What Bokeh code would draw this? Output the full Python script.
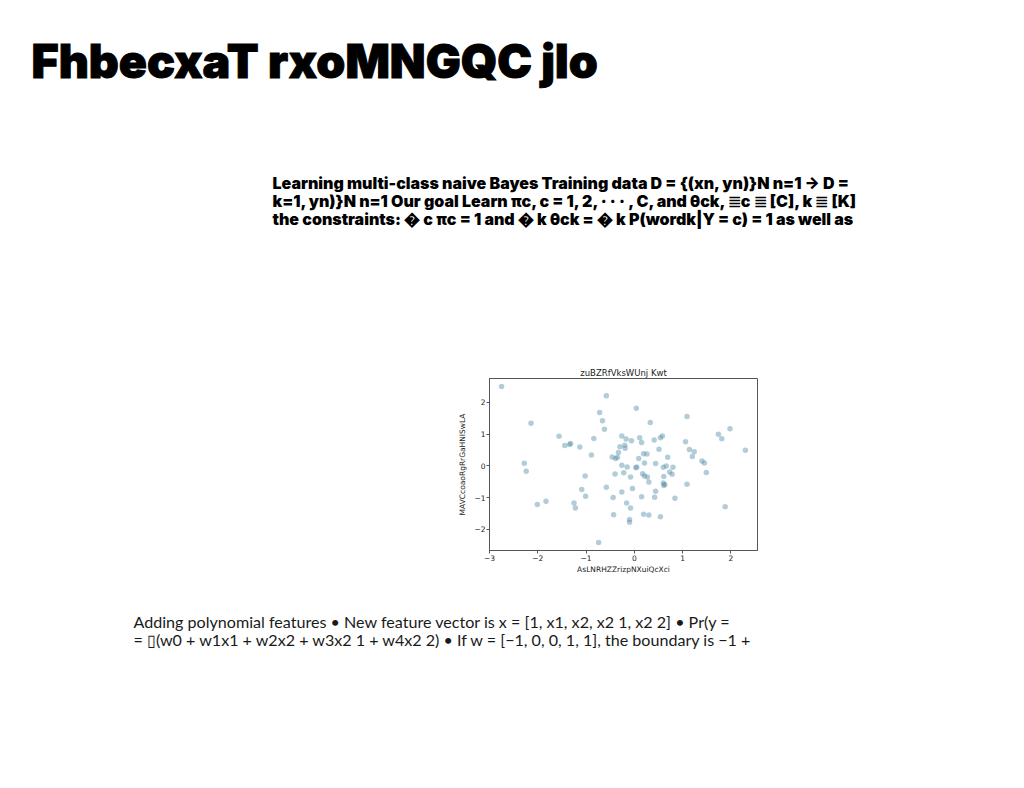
from bokeh.plotting import figure
from bokeh.layouts import column, row, Spacer
from bokeh.models import Range1d, FixedTicker, ColumnDataSource
from bokeh.core.properties import value
from bokeh.embed import file_html
from bokeh.resources import INLINE

# ---------------- data ----------------
page_title = "FhbecxaT rxoMNGQC jIo"
bayes_lines = [
    "Learning multi-class naive Bayes Training data D = {(xn, yn)}N n=1 \u2192 D =",
    "k=1, yn)}N n=1 Our goal Learn \u03c0c, c = 1, 2, \u00b7 \u00b7 \u00b7 , C, and \u03b8ck, \u2263c \u2263 [C], k \u2263 [K]",
    "the constraints: \ufffd c \u03c0c = 1 and \ufffd k \u03b8ck = \ufffd k P(wordk|Y = c) = 1 as well as",
]
poly_lines = [
    "Adding polynomial features \u2022 New feature vector is x = [1, x1, x2, x2 1, x2 2] \u2022 Pr(y =",
    "= \u25af(w0 + w1x1 + w2x2 + w3x2 1 + w4x2 2) \u2022 If w = [\u22121, 0, 0, 1, 1], the boundary is \u22121 +",
]
chart_title = "zuBZRfVksWUnj Kwt"
x_label = "AsLNRHZZrizpNXuiQcXci"
y_label = "MAVCcoaoRgRrGaHNISwLA"
x_ticks = [-3, -2, -1, 0, 1, 2]
y_ticks = [-2, -1, 0, 1, 2]

xs = [-2.75, -0.58, -2.14, 0.04, -0.72, -0.66, -0.62, 0.33, 1.09, -1.56,
      -1.44, -1.34, -1.32, -1.13, -0.84, -0.89, -0.26, -0.17, -0.06, -0.30,
      -0.20, -0.19, -0.33, -0.46, -0.39, -0.35, -0.26, -0.15, 0.11, 0.15,
      0.41, 0.54, 0.58, 0.19, 0.26, 0.09, 0.51, 0.69, 0.44, 0.21,
      0.03, 0.05, 1.06, 1.14, 1.24, 1.20, 1.74, 1.81, 1.98, 2.30,
      1.40, 1.45, -2.28, -2.24, -1.02, -2.01, -1.83, -1.09, -1.01, -1.25,
      -1.22, -0.74, -0.58, -0.40, -0.44, -0.43, -0.22, -0.26, -0.08, -0.16,
      -0.08, -0.10, -0.10, -0.04, 0.17, 0.21, 0.27, 0.30, 0.15, 0.44,
      0.42, 0.19, 0.30, 0.54, 0.60, 0.66, 0.61, 0.60, 0.61, 0.63,
      0.73, 0.78, 0.80, 0.84, 1.09, 1.49, 1.88]
ys = [2.50, 2.21, 1.34, 1.81, 1.68, 1.42, 1.15, 1.36, 1.55, 0.93,
      0.64, 0.67, 0.70, 0.59, 0.86, 0.34, 0.94, 0.84, 0.79, 0.60,
      0.65, 0.55, 0.42, 0.28, 0.23, 0.27, 0.02, -0.04, 0.88, 0.73,
      0.81, 0.88, 0.94, 0.38, 0.37, 0.23, 0.52, 0.27, 0.07, 0.09,
      -0.06, -0.04, 0.76, 0.51, 0.44, 0.29, 0.99, 0.85, 1.17, 0.49,
      0.15, 0.09, 0.08, -0.17, -0.32, -1.22, -1.12, -0.75, -0.96, -1.17,
      -1.33, -2.42, -0.68, -0.26, -1.00, -1.54, -0.22, -0.83, -0.35, -1.17,
      -1.33, -1.69, -1.78, -0.72, -0.25, -0.32, -0.35, -0.51, -0.98, -0.80,
      -0.99, -1.53, -1.55, -1.61, -0.05, -0.01, -0.34, -0.54, -0.62, -0.59,
      -0.20, -0.27, -0.05, -1.02, -0.58, -0.21, -1.29]


# ---------------- helpers ----------------
def text_fig(h):
    p = figure(width=1024, height=h, x_range=Range1d(0, 1024), y_range=Range1d(h, 0),
               output_backend="svg", toolbar_location=None, min_border=0,
               x_axis_type=None, y_axis_type=None)
    p.grid.visible = False
    p.outline_line_color = None
    p.background_fill_color = "white"
    p.border_fill_color = "white"
    return p


# ---------------- top block ----------------
TOP_H = 358
top = text_fig(TOP_H)
top.text(x=[31], y=[60], text=[page_title],
         text_font=value("'Inter Black', 'Inter ExtraBold', Inter"), text_font_style="bold",
         text_font_size="46.5px", text_baseline="alphabetic", text_color="#000000",
         text_outline_color="#000000")
top.text(x=[272] * len(bayes_lines), y=[182 + 18 * i for i in range(len(bayes_lines))],
         text=bayes_lines, text_font=value("'Inter Black', 'Inter ExtraBold', Inter"),
         text_font_style="bold", text_font_size="16px", text_baseline="alphabetic",
         text_color="#000000")

# ---------------- scatter chart ----------------
sc = figure(frame_width=268, frame_height=172,
            x_range=Range1d(-3.0, 2.55), y_range=Range1d(-2.67, 2.75),
            min_border_left=40, min_border_right=10, min_border_top=20, min_border_bottom=50,
            output_backend="svg", toolbar_location=None, title=chart_title)
sc.title.align = "center"
sc.title.text_font = "DejaVu Sans"
sc.title.text_font_size = "8.5px"
sc.title.text_font_style = "normal"
sc.title.text_color = "#222222"
sc.title.standoff = 2
sc.grid.visible = False
sc.outline_line_color = "#555555"
sc.background_fill_color = "white"
sc.border_fill_color = "white"
src = ColumnDataSource(dict(x=xs, y=ys))
sc.scatter("x", "y", source=src, size=5.5, fill_color="#4a87a2", fill_alpha=0.42, line_color=None)

sc.xaxis.ticker = FixedTicker(ticks=x_ticks)
sc.yaxis.ticker = FixedTicker(ticks=y_ticks)
for ax, lab in ((sc.xaxis, x_label), (sc.yaxis, y_label)):
    ax.axis_label = lab
    ax.axis_label_text_font = "DejaVu Sans"
    ax.axis_label_text_font_size = "7.5px"
    ax.axis_label_text_font_style = "normal"
    ax.axis_label_text_color = "#222222"
    ax.axis_label_standoff = 1
    ax.major_label_text_font = "DejaVu Sans"
    ax.major_label_text_font_size = "7.5px"
    ax.major_label_text_color = "#222222"
    ax.major_label_standoff = 1
    ax.major_tick_out = 3
    ax.major_tick_in = 0
    ax.minor_tick_out = 0
    ax.minor_tick_in = 0
    ax.axis_line_color = "#555555"
    ax.major_tick_line_color = "#555555"
sc.yaxis.axis_label_standoff = 4
sc.xaxis.major_label_overrides = {t: ("\u2212" + str(-t) if t < 0 else str(t)) for t in x_ticks}
sc.yaxis.major_label_overrides = {t: ("\u2212" + str(-t) if t < 0 else str(t)) for t in y_ticks}

mid = row(Spacer(width=449, height=242), sc)

# ---------------- bottom block ----------------
BOT_H = 788 - TOP_H - 242
bot = text_fig(BOT_H)
bot.text(x=[133] * len(poly_lines), y=[21 + 18 * i for i in range(len(poly_lines))],
         text=poly_lines, text_font=value("Lato"), text_font_size="16.1px",
         text_baseline="alphabetic", text_color="#1a1a1a")

page = column(top, mid, bot, spacing=0)
open("out.html", "w").write(file_html(page, INLINE))
